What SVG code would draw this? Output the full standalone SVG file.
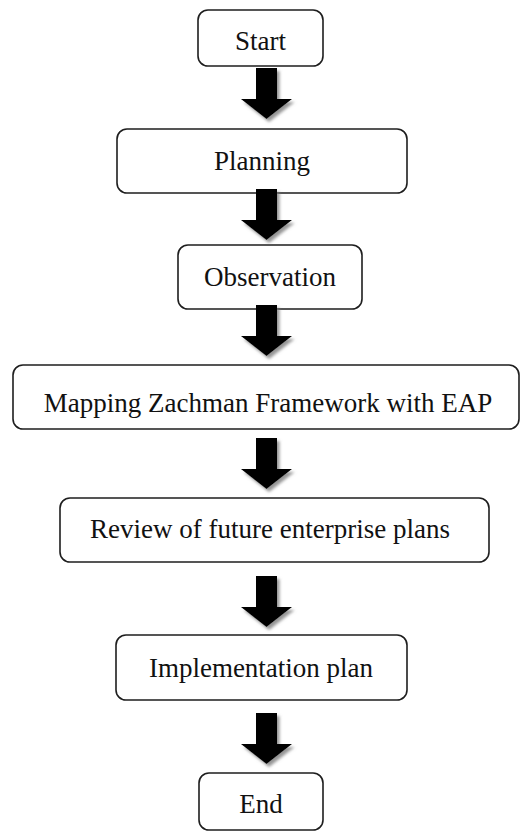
<svg xmlns="http://www.w3.org/2000/svg" width="521" height="832" viewBox="0 0 521 832">
  <style>
    .box { fill: #ffffff; stroke: #1e1e1e; stroke-width: 1.6; }
    .label { font-family: "Liberation Serif", "Times New Roman", serif; font-size: 27px; fill: #111111; text-anchor: middle; }
    .arrow { fill: #000000; filter: url(#shade); }
  </style>
  <defs>
    <filter id="shade" x="-30%" y="-30%" width="160%" height="160%">
      <feDropShadow dx="2.5" dy="3" stdDeviation="1.6" flood-color="#7a7a7a" flood-opacity="0.8"/>
    </filter>
    <!-- block arrow pointing down, tip at origin -->
    <path id="down" d="M-10.5,-51 H10.5 V-20 H25.5 L0,0 L-25.5,-20 H-10.5 Z"/>
  </defs>

  <rect width="521" height="832" fill="#ffffff"/>

  <g id="start">
    <rect class="box" x="198" y="10" width="125" height="56" rx="10"/>
    <text class="label" x="260.5" y="50">Start</text>
  </g>

  <g id="planning">
    <rect class="box" x="117" y="129" width="290" height="64" rx="10"/>
    <text class="label" x="262" y="170">Planning</text>
  </g>

  <g id="observation">
    <rect class="box" x="178" y="245" width="184" height="64" rx="10"/>
    <text class="label" x="270" y="286">Observation</text>
  </g>

  <g id="mapping">
    <rect class="box" x="13" y="365" width="506" height="64" rx="10"/>
    <text class="label" x="268" y="412">Mapping Zachman Framework with EAP</text>
  </g>

  <g id="review">
    <rect class="box" x="60" y="498" width="429" height="64" rx="10"/>
    <text class="label" x="270" y="538">Review of future enterprise plans</text>
  </g>

  <g id="implementation">
    <rect class="box" x="116" y="635" width="291" height="65" rx="10"/>
    <text class="label" x="261" y="677">Implementation plan</text>
  </g>

  <g id="end">
    <rect class="box" x="199" y="773" width="124" height="57" rx="10"/>
    <text class="label" x="261" y="813">End</text>
  </g>

  <g id="connectors">
    <use href="#down" class="arrow" transform="translate(266.5,119)"/>
    <use href="#down" class="arrow" transform="translate(266.5,240)"/>
    <use href="#down" class="arrow" transform="translate(266.5,356)"/>
    <use href="#down" class="arrow" transform="translate(266.5,489)"/>
    <use href="#down" class="arrow" transform="translate(266.5,627)"/>
    <use href="#down" class="arrow" transform="translate(266.5,764)"/>
  </g>
</svg>
